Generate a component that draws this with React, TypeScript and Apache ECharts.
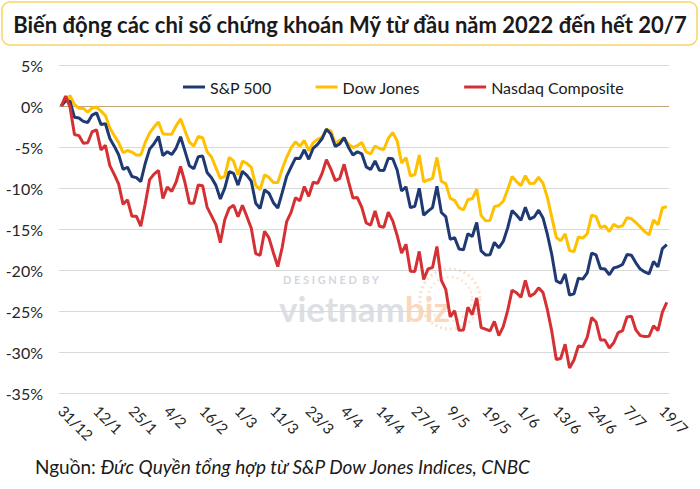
import React, { useEffect, useRef } from "react";
import * as echarts from "echarts";

const dates = [
  "31/12",
  "3/1", "4/1", "5/1", "6/1", "7/1", "10/1", "11/1", "12/1", "13/1", "14/1", "18/1", "19/1", "20/1", "21/1", "24/1", "25/1", "26/1", "27/1", "28/1", "31/1",
  "1/2", "2/2", "3/2", "4/2", "7/2", "8/2", "9/2", "10/2", "11/2", "14/2", "15/2", "16/2", "17/2", "18/2", "22/2", "23/2", "24/2", "25/2", "28/2",
  "1/3", "2/3", "3/3", "4/3", "7/3", "8/3", "9/3", "10/3", "11/3", "14/3", "15/3", "16/3", "17/3", "18/3", "21/3", "22/3", "23/3", "24/3", "25/3", "28/3", "29/3", "30/3", "31/3",
  "1/4", "4/4", "5/4", "6/4", "7/4", "8/4", "11/4", "12/4", "13/4", "14/4", "18/4", "19/4", "20/4", "21/4", "22/4", "25/4", "26/4", "27/4", "28/4", "29/4",
  "2/5", "3/5", "4/5", "5/5", "6/5", "9/5", "10/5", "11/5", "12/5", "13/5", "16/5", "17/5", "18/5", "19/5", "20/5", "23/5", "24/5", "25/5", "26/5", "27/5", "31/5",
  "1/6", "2/6", "3/6", "6/6", "7/6", "8/6", "9/6", "10/6", "13/6", "14/6", "15/6", "16/6", "17/6", "21/6", "22/6", "23/6", "24/6", "27/6", "28/6", "29/6", "30/6",
  "1/7", "5/7", "6/7", "7/7", "8/7", "11/7", "12/7", "13/7", "14/7", "15/7", "18/7", "19/7", "20/7",
];

const sp500 = [
  0,
  0.64, 0.57, -1.38, -1.47, -1.87, -2.01, -1.11, -0.84, -2.25, -2.17, -3.97, -4.9, -5.95, -7.73, -7.47, -8.6, -8.73, -9.22, -7.01, -5.26,
  -4.61, -3.71, -6.06, -5.57, -5.92, -5.13, -3.75, -5.5, -7.29, -7.65, -6.19, -6.11, -8.1, -8.75, -9.68, -11.34, -10.02, -8.0, -8.23,
  -9.65, -7.96, -8.45, -9.17, -11.86, -12.49, -10.24, -10.63, -11.79, -12.44, -10.57, -8.57, -7.44, -6.36, -6.4, -5.34, -6.5, -5.16, -4.68, -4.0, -2.82, -3.43, -4.95,
  -4.62, -3.85, -5.06, -5.98, -5.58, -5.83, -7.42, -7.74, -6.7, -7.84, -7.86, -6.38, -6.44, -7.81, -10.37, -9.86, -12.4, -12.22, -10.04, -13.31,
  -12.82, -12.39, -9.78, -12.99, -13.49, -16.26, -16.05, -17.44, -17.54, -15.57, -15.91, -14.21, -17.68, -18.16, -18.14, -16.63, -17.3, -16.52, -14.86, -12.76, -13.3,
  -13.95, -12.36, -13.8, -13.53, -12.7, -13.65, -15.7, -18.16, -21.33, -21.62, -20.48, -23.07, -22.9, -21.01, -21.11, -20.36, -17.93, -18.17, -19.82, -19.88, -20.58,
  -19.74, -19.61, -19.32, -18.12, -18.19, -19.13, -19.88, -20.23, -20.47, -18.95, -19.62, -17.4, -16.92,
];

const dowJones = [
  0,
  0.68, 1.27, 0.19, -0.28, -0.29, -0.74, -0.24, -0.13, -0.62, -1.17, -2.67, -3.61, -4.47, -5.7, -5.43, -5.62, -5.97, -5.99, -4.44, -3.32,
  -2.57, -1.95, -3.38, -3.44, -3.43, -2.41, -1.57, -3.02, -4.4, -4.88, -3.71, -3.86, -5.58, -6.22, -7.55, -8.82, -8.57, -6.27, -6.73,
  -8.38, -6.73, -7.0, -7.49, -9.69, -10.2, -8.4, -8.71, -9.34, -9.34, -7.69, -6.26, -5.11, -4.36, -4.91, -4.21, -5.45, -4.49, -4.07, -3.81, -2.87, -3.05, -4.57,
  -4.18, -3.9, -4.67, -5.07, -4.83, -4.45, -5.59, -5.83, -4.88, -5.19, -5.3, -3.93, -3.24, -4.25, -6.95, -6.3, -8.53, -8.36, -5.99, -9.25,
  -9.02, -8.83, -6.27, -9.19, -9.46, -11.26, -11.5, -12.4, -12.68, -11.4, -11.32, -10.14, -13.34, -13.99, -13.97, -12.27, -12.14, -11.61, -10.19, -8.6, -9.21,
  -9.7, -8.5, -9.46, -9.42, -8.69, -9.43, -11.19, -13.61, -16.02, -16.44, -15.6, -17.64, -17.75, -15.98, -16.11, -15.58, -13.31, -13.48, -14.84, -14.61, -15.31,
  -14.42, -14.78, -14.59, -13.63, -13.76, -14.21, -14.74, -15.32, -15.71, -13.9, -14.49, -12.41, -12.28,
];

const nasdaq = [
  0,
  1.2, -0.14, -3.48, -3.61, -4.53, -4.49, -3.14, -2.92, -5.36, -4.8, -7.27, -8.34, -9.53, -11.99, -11.44, -13.46, -13.44, -14.65, -11.98, -8.98,
  -8.3, -7.85, -11.29, -9.89, -10.41, -9.27, -7.38, -9.33, -11.85, -11.85, -9.62, -9.72, -12.33, -13.4, -14.47, -16.67, -13.88, -12.47, -12.1,
  -13.5, -12.1, -13.47, -14.9, -17.99, -18.21, -15.27, -16.08, -17.9, -19.58, -17.23, -14.11, -12.98, -11.19, -11.55, -9.82, -11.01, -9.29, -9.43, -8.25, -6.55, -7.69, -9.1,
  -8.84, -7.11, -9.21, -11.22, -11.17, -12.36, -14.27, -14.53, -12.79, -14.66, -14.78, -12.95, -14.01, -15.79, -17.93, -16.87, -20.16, -20.17, -17.73, -21.16,
  -19.87, -19.7, -17.13, -21.27, -22.37, -25.71, -24.97, -27.36, -27.32, -24.54, -25.45, -23.4, -27.02, -27.21, -27.42, -26.27, -28.0, -26.91, -24.96, -22.46, -22.78,
  -23.33, -21.27, -23.22, -22.9, -22.18, -22.75, -24.87, -27.52, -30.91, -30.79, -29.06, -31.95, -30.98, -29.25, -29.35, -28.21, -25.81, -26.34, -28.53, -28.55, -29.51,
  -28.87, -27.63, -27.38, -25.72, -25.63, -27.31, -28.0, -28.11, -28.08, -26.8, -27.39, -25.13, -23.95,
];

const seriesNames = ["S&P 500", "Dow Jones", "Nasdaq Composite"];
const titleText = "Biến động các chỉ số chứng khoán Mỹ từ đầu năm 2022 đến hết 20/7";
const sourceLabel = "Nguồn: ";
const sourceText = "Đức Quyền tổng hợp từ S&P Dow Jones Indices, CNBC";

const FONT = "Lato, 'Noto Sans', sans-serif";

export default function App() {
  const ref = useRef<HTMLDivElement>(null);

  useEffect(() => {
    if (!ref.current) return;
    const chart = echarts.init(ref.current, null, { renderer: "svg" });
    const gridColors = ["#d9d9d9", "#d9d9d9", "#d9d9d9", "#d9d9d9", "#d9d9d9", "#d9d9d9", "#d9d9d9", "#bfa779", "#d9d9d9"];
    chart.setOption({
      animation: false,
      backgroundColor: "#ffffff",
      textStyle: { fontFamily: FONT },
      grid: { left: 59, right: 31, top: 65, bottom: 96, containLabel: false },
      legend: {
        data: seriesNames,
        left: 183,
        top: 79,
        padding: 0,
        icon: "rect",
        itemWidth: 22,
        itemHeight: 3,
        itemGap: 44,
        textStyle: { fontSize: 16, color: "#1a1a1a", fontFamily: FONT },
      },
      xAxis: {
        type: "category",
        data: dates,
        boundaryGap: true,
        axisLine: { show: false },
        axisTick: { show: false },
        splitLine: { show: false },
        axisLabel: {
          interval: 7,
          rotate: -45,
          fontSize: 15,
          color: "#262626",
          margin: 15,
          fontFamily: FONT,
        },
      },
      yAxis: {
        type: "value",
        min: -35,
        max: 5,
        interval: 5,
        axisLine: { show: false },
        axisTick: { show: false },
        axisLabel: {
          formatter: "{value}%",
          fontSize: 16,
          color: "#262626",
          margin: 16,
          fontFamily: FONT,
        },
        splitLine: { show: true, lineStyle: { color: gridColors, width: 1 } },
      },
      graphic: [
        {
          type: "rect",
          shape: { x: 2, y: 2, width: 695, height: 43, r: 8 },
          style: { fill: "#ffffff", stroke: "#f9d46b", lineWidth: 1.5 },
          z: 1,
        },
        {
          type: "text",
          x: 350,
          y: 24,
          z: 2,
          style: {
            text: titleText,
            fontSize: 22,
            fontWeight: "bold",
            fontFamily: FONT,
            fill: "#1a1a1a",
            align: "center",
            verticalAlign: "middle",
          },
        },
        {
          type: "text",
          x: 35,
          y: 466,
          style: {
            text: "{n|" + sourceLabel + "}{i|" + sourceText + "}",
            verticalAlign: "middle",
            rich: {
              n: { fontSize: 19, fontFamily: FONT, fill: "#1a1a1a" },
              i: { fontSize: 19, fontFamily: FONT, fill: "#1a1a1a", fontStyle: "italic" },
            },
          },
        },
        {
          type: "circle",
          shape: { cx: 450, cy: 299, r: 30 },
          style: { fill: "none", stroke: "#fbe1cc", lineWidth: 3, lineDash: [2, 3] },
          z: 0,
        },
        {
          type: "circle",
          shape: { cx: 450, cy: 299, r: 22 },
          style: { fill: "none", stroke: "#fbe6d6", lineWidth: 2.5, lineDash: [2, 3] },
          z: 0,
        },
        {
          type: "text",
          x: 283,
          y: 279,
          z: 0,
          style: {
            text: "D E S I G N E D  B Y",
            fontSize: 11,
            fontWeight: "bold",
            fontFamily: FONT,
            fill: "#d3d6dc",
            verticalAlign: "middle",
          },
        },
        {
          type: "text",
          x: 279,
          y: 308,
          z: 0,
          style: {
            text: "{a|vietnam}{b|biz}",
            verticalAlign: "middle",
            rich: {
              a: { fontSize: 35, lineHeight: 30, fontWeight: "bold", fontFamily: FONT, fill: "#dcdfe4" },
              b: { fontSize: 35, lineHeight: 30, fontWeight: "bold", fontFamily: FONT, fill: "#f9d8bf" },
            },
          },
        },
      ],
      series: [
        {
          name: "Dow Jones",
          type: "line",
          data: dowJones,
          showSymbol: false,
          symbol: "none",
          color: "#ffc000",
          lineStyle: { width: 3, color: "#ffc000" },
          z: 3,
        },
        {
          name: "S&P 500",
          type: "line",
          data: sp500,
          showSymbol: false,
          symbol: "none",
          color: "#1f3a73",
          lineStyle: { width: 3, color: "#1f3a73" },
          z: 4,
        },
        {
          name: "Nasdaq Composite",
          type: "line",
          data: nasdaq,
          showSymbol: false,
          symbol: "none",
          color: "#d53033",
          lineStyle: { width: 3, color: "#d53033" },
          z: 5,
        },
      ],
    });
    return () => chart.dispose();
  }, []);

  return (
    <div
      ref={ref}
      style={{ position: "fixed", left: 0, top: 0, width: 700, height: 489, background: "#ffffff" }}
    />
  );
}
